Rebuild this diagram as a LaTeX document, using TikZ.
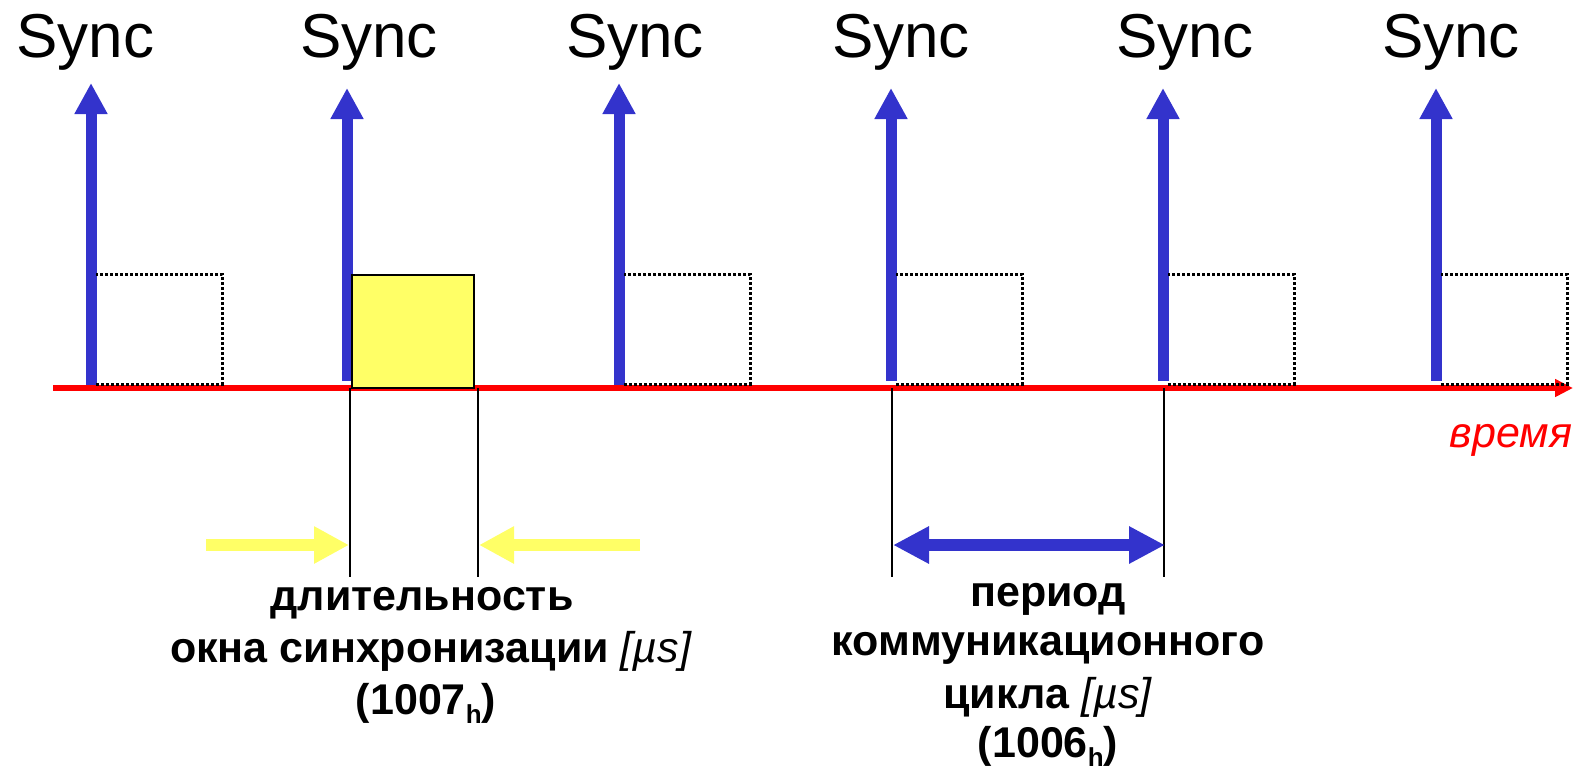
\documentclass[tikz,border=0pt]{standalone}
\usepackage{fontspec}
\setmainfont{Liberation Sans}
\usetikzlibrary{arrows.meta}
\definecolor{syncblue}{HTML}{3333CC}
\definecolor{winyellow}{HTML}{FFFF66}
\definecolor{timered}{HTML}{FF0000}
\newcommand\hsub[1]{\raisebox{-0.22em}{\fontsize{26pt}{26pt}\selectfont #1}}
\begin{document}
\begin{tikzpicture}[x=1pt,y=-1pt,
  syncarrow/.style={draw=syncblue, line width=11pt, -{Triangle[length=31pt,width=31pt]}},
  synclbl/.style={anchor=base, inner sep=0pt, font=\fontsize{62pt}{62pt}\selectfont},
  axisline/.style={draw=timered, line width=5.5pt, -{Triangle[length=18pt,width=17pt]}},
  dotbox/.style={draw=black, line width=3pt, dash pattern=on 3pt off 2pt},
  winbox/.style={draw=black, fill=winyellow, line width=2pt},
  tickline/.style={draw=black, line width=2pt},
  yelarrow/.style={draw=winyellow, line width=12pt, -{Triangle[length=35pt,width=35pt]}},
  perarrow/.style={draw=syncblue, line width=12pt, {Triangle[length=36pt,width=35pt]}-{Triangle[length=36pt,width=35pt]}},
  lbl/.style={anchor=base, inner sep=0pt, font=\bfseries\fontsize{43pt}{50pt}\selectfont},
  timelbl/.style={anchor=base, inner sep=0pt, text=timered, font=\itshape\fontsize{43pt}{43pt}\selectfont}
]
\useasboundingbox (0,0) rectangle (1578,772);

% Sync arrows
\coordinate (s1b) at (91,385);  \coordinate (s1t) at (91,83);
\coordinate (s2b) at (347,381); \coordinate (s2t) at (347,88);
\coordinate (s3b) at (619,385); \coordinate (s3t) at (619,83);
\coordinate (s4b) at (891,381); \coordinate (s4t) at (891,88);
\coordinate (s5b) at (1163,381); \coordinate (s5t) at (1163,88);
\coordinate (s6b) at (1436,381); \coordinate (s6t) at (1436,88);
\foreach \i in {1,...,6} { \draw[syncarrow] (s\i b) -- (s\i t); }

% Sync labels
\node[synclbl] (y1) at (85.5,57) {Sync};
\node[synclbl] (y2) at (369,57) {Sync};
\node[synclbl] (y3) at (635,57) {Sync};
\node[synclbl] (y4) at (901,57) {Sync};
\node[synclbl] (y5) at (1185,57) {Sync};
\node[synclbl] (y6) at (1451,57) {Sync};

% time axis
\coordinate (ax0) at (53,388);
\coordinate (ax1) at (1573,388);
\draw[axisline] (ax0) -- (ax1);

% dotted (empty) windows
\foreach \x in {91,619,891,1163,1436} {
  \draw[dotbox] (\x+5,384) -- (\x+131,384) -- (\x+131,274) -- (\x+5,274);
}

% synchronisation window
\draw[winbox] (352,275) rectangle (474,388);

% tick lines
\coordinate (t1a) at (350,388);  \coordinate (t1b) at (350,577);
\coordinate (t2a) at (478,388);  \coordinate (t2b) at (478,577);
\coordinate (t3a) at (892,388);  \coordinate (t3b) at (892,577);
\coordinate (t4a) at (1164,388); \coordinate (t4b) at (1164,577);
\draw[tickline] (t1a) -- (t1b);
\draw[tickline] (t2a) -- (t2b);
\draw[tickline] (t3a) -- (t3b);
\draw[tickline] (t4a) -- (t4b);

% yellow arrows
\coordinate (ya0) at (206,545); \coordinate (ya1) at (349,545);
\coordinate (yb0) at (640,545); \coordinate (yb1) at (479,545);
\draw[yelarrow] (ya0) -- (ya1);
\draw[yelarrow] (yb0) -- (yb1);

% period arrow
\coordinate (pa0) at (893,545); \coordinate (pa1) at (1165,545);
\draw[perarrow] (pa0) -- (pa1);

% labels
\node[timelbl] (vr) at (1511,447) {время};

\node[lbl] (l1) at (422,610) {длительность};
\node[lbl] (l2) at (431,662) {окна синхронизации \textmd{\textit{[µs]}}};
\node[lbl] (l3) at (426,714) {(1007\hsub{h})};

\node[lbl] (r1) at (1048,606) {период};
\node[lbl] (r2) at (1048,655) {коммуникационного};
\node[lbl] (r3) at (1048,708) {цикла \textmd{\textit{[µs]}}};
\node[lbl] (r4) at (1048,757) {(1006\hsub{h})};
\end{tikzpicture}
\end{document}
